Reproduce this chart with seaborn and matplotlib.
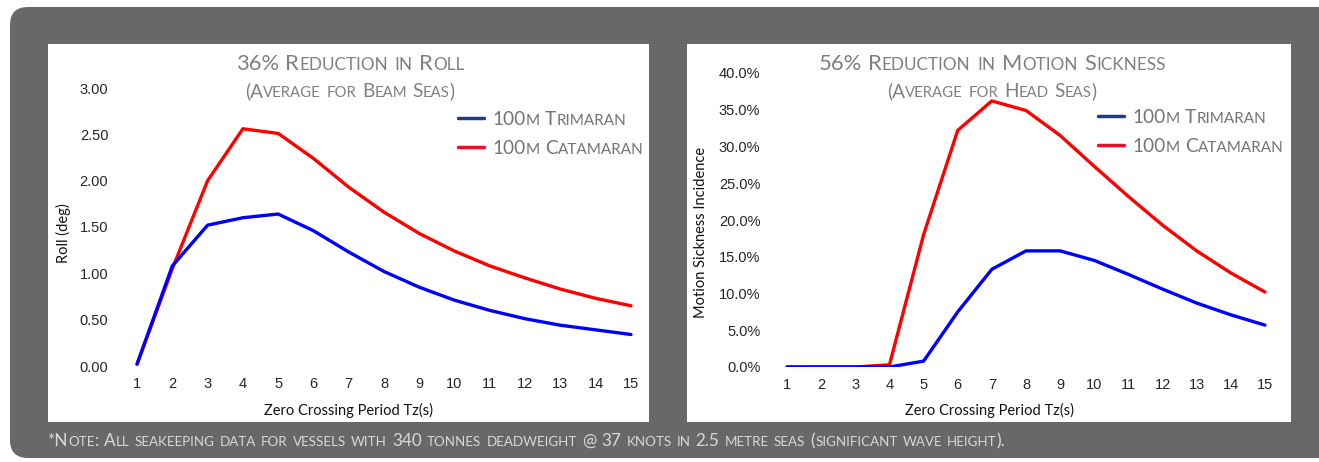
import numpy as np
import pandas as pd
import seaborn as sns
import matplotlib.pyplot as plt
from matplotlib.lines import Line2D
from matplotlib.patches import FancyBboxPatch, Rectangle
from matplotlib.transforms import IdentityTransform
from matplotlib.offsetbox import TextArea, HPacker, VPacker, AnchoredOffsetbox
from matplotlib.ticker import FormatStrFormatter, PercentFormatter, MultipleLocator

# data
tz = list(range(1, 16))
roll_trimaran = [0.02, 1.08, 1.52, 1.60, 1.64, 1.46, 1.23, 1.02, 0.85, 0.71, 0.60, 0.51, 0.44, 0.39, 0.34]
roll_catamaran = [0.02, 1.05, 2.00, 2.56, 2.51, 2.24, 1.93, 1.66, 1.43, 1.24, 1.08, 0.95, 0.83, 0.73, 0.65]
msi_trimaran = [0.0, 0.0, 0.0, 0.0, 0.8, 7.5, 13.3, 15.8, 15.8, 14.5, 12.6, 10.6, 8.7, 7.1, 5.7]
msi_catamaran = [0.0, 0.0, 0.0, 0.3, 18.0, 32.2, 36.2, 34.9, 31.5, 27.3, 23.2, 19.3, 15.8, 12.8, 10.2]

vessels = ['100m Trimaran', '100m Catamaran']
line_colors = {'100m Trimaran': '#0000ff', '100m Catamaran': '#ff0000'}
legend_colors = ['#1f3c88', '#e8102a']

titles = [('36% Reduction in Roll', '(Average for Beam Seas)'),
          ('56% Reduction in Motion Sickness', '(Average for Head Seas)')]
ylabels = ['Roll (deg)', 'Motion Sickness Incidence']
xlabel = 'Zero Crossing Period Tz(s)'
note = ('*Note: All seakeeping data for vessels with 340 tonnes deadweight @ 37 knots '
        'in 2.5 metre seas (significant wave height).')

df = pd.DataFrame({
    'Tz': tz * 4,
    'value': roll_trimaran + roll_catamaran + msi_trimaran + msi_catamaran,
    'vessel': [vessels[0]] * 15 + [vessels[1]] * 15 + [vessels[0]] * 15 + [vessels[1]] * 15,
    'chart': ['roll'] * 30 + ['msi'] * 30,
})

sns.set_style('white')
plt.rcParams['font.family'] = ['Liberation Sans', 'DejaVu Sans']

W, H = 1319, 462
fig = plt.figure(figsize=(W / 100, H / 100), dpi=100, facecolor='white')

GREY = '#6a6866'


def small_caps(text, size, color, family='Lato', ratio=0.78, space=0.3):
    words = []
    for word in text.split(' '):
        runs = []
        for ch in word:
            small = ch.islower()
            if runs and runs[-1][0] == small:
                runs[-1][1] += ch
            else:
                runs.append([small, ch])
        parts = [TextArea(s.upper() if sm else s,
                          textprops=dict(fontsize=size * ratio if sm else size,
                                         color=color, family=family))
                 for sm, s in runs]
        words.append(HPacker(children=parts, align='baseline', pad=0, sep=0))
    return HPacker(children=words, align='baseline', pad=0, sep=size * space)


# grey rounded frame and white panels
fig.add_artist(FancyBboxPatch((10, 4), 1340, 451, boxstyle='round,pad=0,rounding_size=18',
                              facecolor=GREY, edgecolor='none', transform=IdentityTransform(),
                              zorder=-3))
panels = [(48, 649), (687, 1291)]
for x0, x1 in panels:
    fig.add_artist(Rectangle((x0 / W, 40 / H), (x1 - x0) / W, 378 / H, facecolor='white',
                             edgecolor='none', transform=fig.transFigure, zorder=-2))

ax1 = fig.add_axes([119.4 / W, 96 / H, 529.2 / W, 278 / H])
ax2 = fig.add_axes([770 / W, 95 / H, 512 / W, 294 / H])

for ax, chart in [(ax1, 'roll'), (ax2, 'msi')]:
    sub = df[df.chart == chart]
    sns.lineplot(data=sub, x='Tz', y='value', hue='vessel', hue_order=vessels[::-1],
                 palette=line_colors, linewidth=2.4, ax=ax, legend=False)
    ax.set_facecolor('none')
    ax.set_xlim(0.5, 15.5)
    ax.set_xticks(tz)
    ax.tick_params(length=0, labelsize=10.5)
    ax.tick_params(axis='x', pad=8)
    sns.despine(ax=ax, left=True, bottom=True)

ax1.set_ylim(0, 3)
ax1.yaxis.set_major_locator(MultipleLocator(0.5))
ax1.yaxis.set_major_formatter(FormatStrFormatter('%.2f'))
ax1.tick_params(axis='y', pad=8)
ax2.set_ylim(0, 40)
ax2.yaxis.set_major_locator(MultipleLocator(5))
ax2.yaxis.set_major_formatter(PercentFormatter(100, decimals=1))
ax2.tick_params(axis='y', pad=7)

label_pos = [((0.432, -0.133), (-0.091, 0.478)), ((0.428, -0.122), (-0.121, 0.456))]
for ax, ylab, (xl, yl) in zip([ax1, ax2], ylabels, label_pos):
    ax.set_xlabel(xlabel, family='Lato', fontsize=10.5, color='#111111')
    ax.set_ylabel(ylab, family='Lato', fontsize=10.5, color='#111111')
    ax.xaxis.set_label_coords(*xl)
    ax.yaxis.set_label_coords(*yl)

# legends
legend_anchor = [(458, 111), (1098, 109)]
for ax, (lx, ly) in zip([ax1, ax2], legend_anchor):
    handles = [Line2D([], [], color=c, lw=2.5) for c in legend_colors]
    leg = ax.legend(handles, vessels, loc='upper left', bbox_to_anchor=(lx / W, 1 - ly / H),
                    bbox_transform=fig.transFigure, frameon=False, borderaxespad=0,
                    borderpad=0, fontsize=14, handlelength=1.35, handletextpad=0.4,
                    labelspacing=0.62)
    for col in leg._legend_handle_box.get_children():
        for item in col.get_children():
            kids = item.get_children()
            box = small_caps(kids[1]._text.get_text(), 13.7, '#747474', ratio=0.8)
            box.set_figure(fig)
            kids[1] = box

# titles
title_pos = [350, 992]
for (t1, t2), cx in zip(titles, title_pos):
    box = VPacker(children=[small_caps(t1, 15.8, '#808080'), small_caps(t2, 13.7, '#808080')],
                  align='center', pad=0, sep=6)
    fig.add_artist(AnchoredOffsetbox(loc='center', child=box, frameon=False, pad=0, borderpad=0,
                                     bbox_to_anchor=(cx / W, 1 - 77 / H),
                                     bbox_transform=fig.transFigure))

# footnote
fig.add_artist(AnchoredOffsetbox(loc='center left', child=small_caps(note, 12.3, '#d9d9d9'),
                                 frameon=False, pad=0, borderpad=0,
                                 bbox_to_anchor=(48 / W, 1 - 441 / H),
                                 bbox_transform=fig.transFigure))

fig.savefig('out.png', dpi=100, facecolor='white')
